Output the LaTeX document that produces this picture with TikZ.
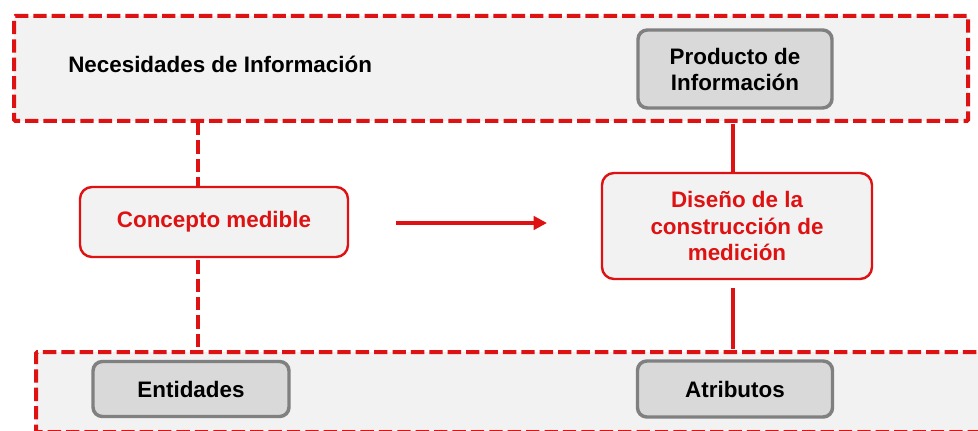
\documentclass[tikz,border=0pt]{standalone}
\usepackage{fontspec}
\setmainfont{Liberation Sans}
\usetikzlibrary{arrows.meta}
\definecolor{dred}{RGB}{222,18,18}
\definecolor{panel}{RGB}{242,242,242}
\definecolor{greyfill}{RGB}{217,217,217}
\definecolor{greyline}{RGB}{128,128,128}
\tikzset{
  px/.style={x=0.75pt,y=-0.75pt},
  zone/.style={draw=dred,fill=panel,line width=3pt,dash pattern=on 10pt off 3.8pt,rounded corners=1pt},
  greybox/.style={draw=greyline,fill=greyfill,line width=2.6pt,rounded corners=7pt,align=center,
    font=\bfseries\fontsize{16.8}{19.5}\selectfont,text=black,inner sep=0pt},
  redbox/.style={draw=dred,fill=panel,line width=1.8pt,rounded corners=9pt,align=center,
    font=\bfseries\fontsize{16.8}{20}\selectfont,text=dred,inner sep=0pt},
  dlink/.style={draw=dred,line width=3pt,dash pattern=on 10pt off 3.8pt},
  slink/.style={draw=dred,line width=3pt},
}
\begin{document}
\begin{tikzpicture}[px]
\useasboundingbox (0,0) rectangle (978,431);
% outer zones
\node[zone,minimum width=954*0.75pt,minimum height=105*0.75pt,anchor=north west,inner sep=0pt] (top) at (12,14) {};
\begin{scope}
\clip (0,0) rectangle (978,431);
\node[zone,minimum width=960*0.75pt,minimum height=80*0.75pt,anchor=north west,inner sep=0pt] (bot) at (34,350) {};
\end{scope}
\node[font=\bfseries\fontsize{16.8}{19.5}\selectfont,anchor=west,inner sep=0pt] (need) at (68,64) {Necesidades de Información};
% boxes
\node[greybox,minimum width=194*0.75pt,minimum height=78*0.75pt] (prod) at (735,69) {Producto de\\Información};
\node[redbox,minimum width=268*0.75pt,minimum height=70*0.75pt] (conc) at (214,222) {Concepto medible};
\node[redbox,minimum width=270*0.75pt,minimum height=106*0.75pt] (dis) at (737,226) {Diseño de la\\construcción de\\medición};
\node[greybox,minimum width=196*0.75pt,minimum height=55*0.75pt] (ent) at (191,389) {Entidades};
\node[greybox,minimum width=195*0.75pt,minimum height=56*0.75pt] (atr) at (735,389) {Atributos};
% connectors
\coordinate (c1) at (198,122);
\coordinate (c2) at (198,348);
\coordinate (c3) at (733,124);
\coordinate (c4) at (733,288);
\coordinate (c5) at (733,349);
\draw[dlink] (c1) -- (c1 |- conc.north);
\draw[dlink] (c1 |- conc.south) ++(0,2) -- (c2);
\draw[slink] (c3) -- (c3 |- dis.north);
\draw[slink] (c4) -- (c5);
\coordinate (a1) at (396,223);
\coordinate (a2) at (547,223);
\draw[draw=dred,line width=3.2pt,-{Triangle[length=10pt,width=10pt]}] (a1) -- (a2);
\end{tikzpicture}
\end{document}
